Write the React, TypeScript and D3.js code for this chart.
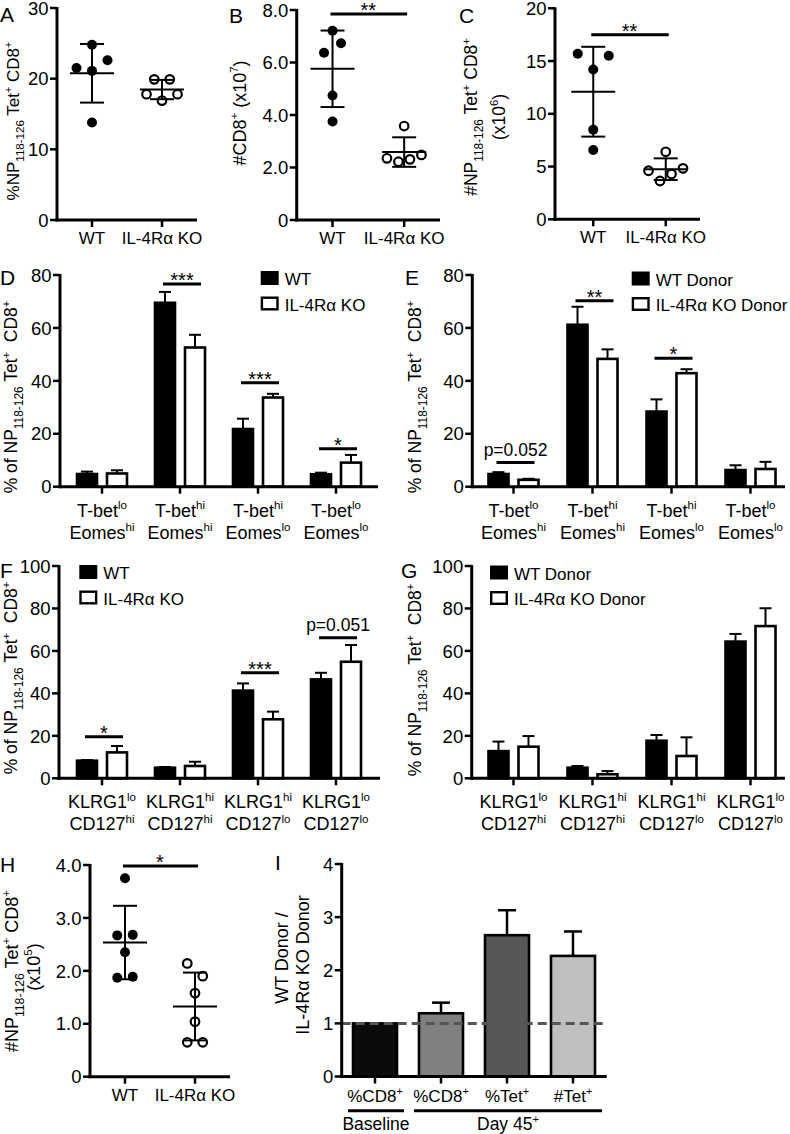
import React from "react";
import * as d3 from "d3";

const FONT = "'Liberation Sans', Arial, Helvetica, sans-serif";

// ---------------- data ----------------
const genotypes = ["WT", "IL-4Rα KO"];

// A: %NP118-126 Tet+ CD8+
const pctTetWT = [24.8, 21.5, 21.1, 22.6, 13.8];
const pctTetKO = [19.9, 19.9, 17.8, 16.9, 17.8];
// B: #CD8+ (x10^7)
const cd8CountWT = [6.37, 7.21, 6.73, 4.74, 3.75];
const cd8CountKO = [3.58, 2.35, 2.22, 2.31, 2.48];
// C: #NP Tet+ CD8+ (x10^6)
const tetCountWT = [15.7, 14.2, 15.5, 8.5, 6.57];
const tetCountKO = [6.4, 4.6, 3.63, 4.3, 4.83];
// H: #NP Tet+ CD8+ (x10^5)
const memTetWT = [3.75, 2.67, 2.68, 2.35, 1.87, 1.89];
const memTetKO = [2.14, 1.9, 1.58, 1.04, 0.65, 0.65];

const ticksA = [0, 10, 20, 30];
const ticksB = [0, 2, 4, 6, 8];
const ticksC = [0, 5, 10, 15, 20];
const ticksH = [0, 1, 2, 3, 4];
const ticksDE = [0, 20, 40, 60, 80];
const ticksFG = [0, 20, 40, 60, 80, 100];
const ticksI = [0, 1, 2, 3, 4];

const tbetCats = [
  ["T-bet", "lo", "Eomes", "hi"],
  ["T-bet", "hi", "Eomes", "hi"],
  ["T-bet", "hi", "Eomes", "lo"],
  ["T-bet", "lo", "Eomes", "lo"],
];
const klrgCats = [
  ["KLRG1", "lo", "CD127", "hi"],
  ["KLRG1", "hi", "CD127", "hi"],
  ["KLRG1", "hi", "CD127", "lo"],
  ["KLRG1", "lo", "CD127", "lo"],
];

// D
const dWT = [4.8, 69.5, 21.8, 4.7];
const dWTerr = [0.9, 4.1, 3.9, 0.6];
const dKO = [5.0, 52.6, 33.7, 9.1];
const dKOerr = [1.2, 4.8, 1.4, 2.9];
// E
const eWT = [4.8, 61.2, 28.4, 6.3];
const eWTerr = [0.7, 6.8, 4.6, 1.8];
const eKO = [2.6, 48.3, 42.9, 6.7];
const eKOerr = [0.4, 3.6, 1.5, 2.7];
// F
const fWT = [8.3, 5.0, 41.3, 46.6];
const fWTerr = [0.3, 0.3, 3.4, 3.1];
const fKO = [12.2, 5.8, 27.8, 54.9];
const fKOerr = [3.0, 2.0, 3.6, 7.9];
// G
const gWT = [12.8, 5.0, 17.7, 64.4];
const gWTerr = [4.5, 0.8, 2.7, 3.6];
const gKO = [14.9, 1.9, 10.5, 71.7];
const gKOerr = [5.0, 1.5, 8.8, 8.4];
// I
const iCats = [["%CD8", "+"], ["%CD8", "+"], ["%Tet", "+"], ["#Tet", "+"]];
const iVals = [1.0, 1.19, 2.66, 2.27];
const iErr = [0, 0.2, 0.47, 0.46];
const iGroups = [
  { label: "Baseline", sup: "", from: 0, to: 0 },
  { label: "Day 45", sup: "+", from: 1, to: 3 },
];

const legendMouse = ["WT", "IL-4Rα KO"];
const legendDonor = ["WT Donor", "IL-4Rα KO Donor"];

const sigB = { y: 7.85, t: "**" };
const sigC = { y: 17.5, t: "**" };
const sigH = { y: 3.98, t: "*" };
const sigD = [
  { g: 1, y: 76.6, t: "***" },
  { g: 2, y: 39.3, t: "***" },
  { g: 3, y: 14.3, t: "*" },
];
const sigE = [
  { g: 0, y: 9.1, t: "p=0.052" },
  { g: 1, y: 70.3, t: "**" },
  { g: 2, y: 48.5, t: "*" },
];
const sigF = [
  { g: 0, y: 19.6, t: "*" },
  { g: 2, y: 49.7, t: "***" },
  { g: 3, y: 66.2, t: "p=0.051" },
];

// ---------------- styles ----------------
const iColors = ["#0b0b0b", "#808080", "#575757", "#c0c0c0"];
const TICK_FS = 18.5;
const XLAB_FS = 17;
const CAT_FS = 18;

type Seg = { t: string; s?: "sub" | "sup" };

function spans(segs: Seg[], size: number) {
  let cur = 0;
  return segs.map((sg, i) => {
    const target = sg.s === "sub" ? size * 0.32 : sg.s === "sup" ? -size * 0.42 : 0;
    const dy = target - cur;
    cur = target;
    return (
      <tspan key={i} dy={dy} fontSize={sg.s === "sub" ? size * 0.68 : sg.s ? size * 0.64 : size}>
        {sg.t}
      </tspan>
    );
  });
}

function Rich(props: { segs: Seg[]; x: number; y: number; size?: number; anchor?: string; rotate?: boolean }) {
  const size = props.size ?? 17;
  return (
    <text
      x={props.x}
      y={props.y}
      fontSize={size}
      textAnchor={props.anchor ?? "middle"}
      transform={props.rotate ? `rotate(-90 ${props.x} ${props.y})` : undefined}
      style={{ whiteSpace: "pre" }}
    >
      {spans(props.segs, size)}
    </text>
  );
}

function swarm(vals: number[], y: (v: number) => number, thr = 14.2) {
  const idx = vals.map((_, i) => i).sort((a, b) => y(vals[a]) - y(vals[b]));
  const clusters: number[][] = [];
  let prev = -Infinity;
  for (const i of idx) {
    const py = y(vals[i]);
    if (clusters.length && py - prev < thr) clusters[clusters.length - 1].push(i);
    else clusters.push([i]);
    prev = py;
  }
  const off = new Array(vals.length).fill(0);
  for (const c of clusters) {
    c.sort((a, b) => a - b);
    const n = c.length;
    const ys = c.map((i) => y(vals[i]));
    const span = (d3.max(ys) as number) - (d3.min(ys) as number);
    const sp = n >= 4 ? 11.5 : span > 18 ? 8.5 : 15.5;
    c.forEach((i, k) => (off[i] = (k - (n - 1) / 2) * sp));
  }
  return off;
}

function YAxis(p: { x: number; y: d3.ScaleLinear<number, number>; ticks: number[]; fmt: (v: number) => string }) {
  const [lo, hi] = p.y.domain();
  return (
    <g>
      <line x1={p.x} x2={p.x} y1={p.y(hi) - 1} y2={p.y(lo) + 1.5} stroke="#000" strokeWidth={3} />
      {p.ticks.map((t) => (
        <g key={t}>
          <line x1={p.x - 7} x2={p.x} y1={p.y(t)} y2={p.y(t)} stroke="#000" strokeWidth={2.5} />
          <text x={p.x - 8.5} y={p.y(t)} dy="0.36em" textAnchor="end" fontSize={TICK_FS}>
            {p.fmt(t)}
          </text>
        </g>
      ))}
    </g>
  );
}

function XAxis(p: { x0: number; x1: number; y: number; ticks: number[] }) {
  return (
    <g>
      <line x1={p.x0 - 1.5} x2={p.x1} y1={p.y} y2={p.y} stroke="#000" strokeWidth={3} />
      {p.ticks.map((t, i) => (
        <line key={i} x1={t} x2={t} y1={p.y} y2={p.y + 7} stroke="#000" strokeWidth={2.5} />
      ))}
    </g>
  );
}

function DotPanel(p: {
  ax: number;
  xEnd: number;
  yTop: number;
  y0: number;
  max: number;
  ticks: number[];
  fmt: (v: number) => string;
  wt: number[];
  ko: number[];
  xr: [number, number];
  sig?: { y: number; t: string };
}) {
  const y = d3.scaleLinear().domain([0, p.max]).range([p.y0, p.yTop]);
  const x = d3.scalePoint<string>().domain(genotypes).range(p.xr).padding(0.5);
  const groups = [p.wt, p.ko];
  const cxs = genotypes.map((g) => x(g) as number);
  return (
    <g>
      {groups.map((vals, gi) => {
        const cx = cxs[gi];
        const off = swarm(vals, y);
        const m = d3.mean(vals) as number;
        const sd = d3.deviation(vals) as number;
        return (
          <g key={gi}>
            {vals.map((v, i) =>
              gi === 0 ? (
                <circle key={i} cx={cx + off[i]} cy={y(v)} r={5} fill="#000" />
              ) : (
                <circle key={i} cx={cx + off[i]} cy={y(v)} r={4.3} fill="none" stroke="#000" strokeWidth={2.2} />
              )
            )}
            <line x1={cx} x2={cx} y1={y(m - sd)} y2={y(m + sd)} stroke="#000" strokeWidth={2} />
            <line x1={cx - 12} x2={cx + 12} y1={y(m + sd)} y2={y(m + sd)} stroke="#000" strokeWidth={2} />
            <line x1={cx - 12} x2={cx + 12} y1={y(m - sd)} y2={y(m - sd)} stroke="#000" strokeWidth={2} />
            <line x1={cx - 22} x2={cx + 22} y1={y(m)} y2={y(m)} stroke="#000" strokeWidth={2} />
          </g>
        );
      })}
      <YAxis x={p.ax} y={y} ticks={p.ticks} fmt={p.fmt} />
      <XAxis x0={p.ax} x1={p.xEnd} y={p.y0} ticks={cxs} />
      {genotypes.map((g, i) => (
        <text key={g} x={cxs[i]} y={p.y0 + 24} textAnchor="middle" fontSize={XLAB_FS}>
          {g}
        </text>
      ))}
      {p.sig && (
        <g>
          <line x1={cxs[0] - 2} x2={cxs[1] + 3} y1={y(p.sig.y)} y2={y(p.sig.y)} stroke="#000" strokeWidth={3} />
          <text x={(cxs[0] + cxs[1]) / 2} y={y(p.sig.y) + 3} textAnchor="middle" fontSize={20}>
            {p.sig.t}
          </text>
        </g>
      )}
    </g>
  );
}

function Legend(p: { x: number; y: number; labels: string[] }) {
  return (
    <g>
      <rect x={p.x} y={p.y} width={18} height={14} fill="#000" />
      <rect x={p.x + 1.2} y={p.y + 26.7} width={15.6} height={11.6} fill="#fff" stroke="#000" strokeWidth={2.4} />
      <text x={p.x + 24} y={p.y + 14} fontSize={17}>
        {p.labels[0]}
      </text>
      <text x={p.x + 24} y={p.y + 39.5} fontSize={17}>
        {p.labels[1]}
      </text>
    </g>
  );
}

function BarPanel(p: {
  ax: number;
  xEnd: number;
  yTop: number;
  y0: number;
  max: number;
  ticks: number[];
  cats: string[][];
  wt: number[];
  wtErr: number[];
  ko: number[];
  koErr: number[];
  xr: [number, number];
  sig?: { g: number; y: number; t: string }[];
}) {
  const y = d3.scaleLinear().domain([0, p.max]).range([p.y0, p.yTop]);
  const x = d3.scalePoint<number>().domain(d3.range(p.cats.length)).range(p.xr).padding(0.5);
  const series = [
    { vals: p.wt, err: p.wtErr, fill: "#000", dx: -15 },
    { vals: p.ko, err: p.koErr, fill: "#fff", dx: 15 },
  ];
  const cxs = p.cats.map((_, i) => x(i) as number);
  return (
    <g>
      {series.map((s, si) => (
        <g key={si}>
          {s.vals.map((v, i) => {
            const c = cxs[i] + s.dx;
            const top = y(v);
            const et = y(v + s.err[i]);
            return (
              <g key={i}>
                <line x1={c} x2={c} y1={top} y2={et} stroke="#000" strokeWidth={2} />
                <line x1={c - 6} x2={c + 6} y1={et} y2={et} stroke="#000" strokeWidth={2} />
                <rect x={c - 10} y={top} width={20} height={p.y0 - top} fill={s.fill} stroke="#000" strokeWidth={2.6} />
              </g>
            );
          })}
        </g>
      ))}
      <YAxis x={p.ax} y={y} ticks={p.ticks} fmt={(v) => String(v)} />
      <XAxis x0={p.ax} x1={p.xEnd} y={p.y0} ticks={cxs} />
      {p.cats.map((c, i) => (
        <g key={i}>
          <Rich x={cxs[i]} y={p.y0 + 30} size={CAT_FS} segs={[{ t: c[0] }, { t: c[1], s: "sup" }]} />
          <Rich x={cxs[i]} y={p.y0 + 52} size={CAT_FS} segs={[{ t: c[2] }, { t: c[3], s: "sup" }]} />
        </g>
      ))}
      {(p.sig ?? []).map((s, i) => {
        const c = cxs[s.g];
        const ly = y(s.y);
        const isP = s.t.startsWith("p");
        return (
          <g key={i}>
            <line x1={c - 17} x2={c + 21} y1={ly} y2={ly} stroke="#000" strokeWidth={3} />
            <text x={c + 2} y={isP ? ly - 7 : ly + 3} textAnchor="middle" fontSize={isP ? 17.5 : 20}>
              {s.t}
            </text>
          </g>
        );
      })}
    </g>
  );
}

function IPanel() {
  const ax = 341.7;
  const xEnd = 606.7;
  const y = d3.scaleLinear().domain([0, 4]).range([1076.5, 864]);
  const x = d3.scalePoint<number>().domain(d3.range(iVals.length)).range([342, 606]).padding(0.5);
  const cxs = iVals.map((_, i) => x(i) as number);
  return (
    <g>
      {iVals.map((v, i) => {
        const c = cxs[i];
        const top = y(v);
        const et = y(v + iErr[i]);
        return (
          <g key={i}>
            {iErr[i] > 0 && (
              <g>
                <line x1={c} x2={c} y1={top} y2={et} stroke="#000" strokeWidth={2.5} />
                <line x1={c - 9} x2={c + 9} y1={et} y2={et} stroke="#000" strokeWidth={2.5} />
              </g>
            )}
            <rect x={c - 22} y={top} width={44} height={y(0) - top} fill={iColors[i]} stroke="#000" strokeWidth={2.6} />
          </g>
        );
      })}
      <line x1={ax} x2={xEnd} y1={y(1)} y2={y(1)} stroke="#555" strokeWidth={3} strokeDasharray="9,5" />
      <YAxis x={ax} y={y} ticks={ticksI} fmt={(v) => String(v)} />
      <XAxis x0={ax} x1={xEnd} y={y(0)} ticks={cxs} />
      {iCats.map((c, i) => (
        <Rich key={i} x={cxs[i]} y={1102} size={17} segs={[{ t: c[0] }, { t: c[1], s: "sup" }]} />
      ))}
      {iGroups.map((g, i) => {
        const x1 = cxs[g.from] - 27;
        const x2 = cxs[g.to] + 29;
        return (
          <g key={i}>
            <line x1={x1} x2={x2} y1={1110.7} y2={1110.7} stroke="#000" strokeWidth={3} />
            <Rich x={(x1 + x2) / 2} y={1130} size={17.5} segs={[{ t: g.label }, { t: g.sup, s: "sup" }]} />
          </g>
        );
      })}
    </g>
  );
}

const npLabel: Seg[] = [
  { t: "#NP" },
  { t: "118-126", s: "sub" },
  { t: " Tet" },
  { t: "+", s: "sup" },
  { t: " CD8" },
  { t: "+", s: "sup" },
];
const pctNpLabel: Seg[] = [
  { t: "%NP" },
  { t: "118-126", s: "sub" },
  { t: " Tet" },
  { t: "+", s: "sup" },
  { t: " CD8" },
  { t: "+", s: "sup" },
];
const pctOfLabel: Seg[] = [
  { t: "% of NP" },
  { t: "118-126", s: "sub" },
  { t: " Tet" },
  { t: "+", s: "sup" },
  { t: "  CD8" },
  { t: "+", s: "sup" },
];

function Letter(p: { x: number; y: number; t: string }) {
  return (
    <text x={p.x} y={p.y} fontSize={21}>
      {p.t}
    </text>
  );
}

export default function App() {
  const fmt1 = (v: number) => (v === 0 ? "0" : v.toFixed(1));
  return (
    <svg
      width={790}
      height={1134}
      style={{ position: "absolute", left: 0, top: 0, background: "#fff" }}
      fontFamily={FONT}
    >
      <rect width={790} height={1134} fill="#fff" />

      {/* A */}
      <Letter x={0} y={22} t="A" />
      <Rich x={19} y={121} rotate size={17} segs={pctNpLabel} />
      <DotPanel ax={57} xEnd={197} yTop={8} y0={220} max={30} ticks={ticksA} fmt={(v) => String(v)} wt={pctTetWT} ko={pctTetKO} xr={[57, 197]} />

      {/* B */}
      <Letter x={229} y={23} t="B" />
      <Rich x={246} y={113} rotate size={18} segs={[{ t: "#CD8" }, { t: "+", s: "sup" }, { t: " (x10" }, { t: "7", s: "sup" }, { t: ")" }]} />
      <DotPanel ax={296.7} xEnd={440} yTop={10} y0={220} max={8} ticks={ticksB} fmt={fmt1} wt={cd8CountWT} ko={cd8CountKO} xr={[296.7, 440]} sig={sigB} />

      {/* C */}
      <Letter x={459} y={23} t="C" />
      <Rich x={477} y={117} rotate size={17.5} segs={npLabel} />
      <Rich x={505} y={117} rotate size={17.5} segs={[{ t: "(x10" }, { t: "6", s: "sup" }, { t: ")" }]} />
      <DotPanel ax={555} xEnd={700} yTop={8.3} y0={219.3} max={20} ticks={ticksC} fmt={(v) => String(v)} wt={tetCountWT} ko={tetCountKO} xr={[557, 702]} sig={sigC} />

      {/* D */}
      <Letter x={0} y={285} t="D" />
      <Rich x={17} y={397} rotate size={17.5} segs={pctOfLabel} />
      <BarPanel ax={60} xEnd={378} yTop={275} y0={486.7} max={80} ticks={ticksDE} cats={tbetCats} wt={dWT} wtErr={dWTerr} ko={dKO} koErr={dKOerr} xr={[63, 375]} sig={sigD} />
      <Legend x={260.7} y={271} labels={legendMouse} />

      {/* E */}
      <Letter x={405} y={285} t="E" />
      <Rich x={421} y={397} rotate size={17.5} segs={pctOfLabel} />
      <BarPanel ax={472.3} xEnd={785} yTop={275} y0={486.7} max={80} ticks={ticksDE} cats={tbetCats} wt={eWT} wtErr={eWTerr} ko={eKO} koErr={eKOerr} xr={[474, 790]} sig={sigE} />
      <Legend x={631.7} y={271.5} labels={legendDonor} />

      {/* F */}
      <Letter x={0} y={578} t="F" />
      <Rich x={17} y={678} rotate size={17.5} segs={pctOfLabel} />
      <BarPanel ax={59} xEnd={380} yTop={566} y0={778.3} max={100} ticks={ticksFG} cats={klrgCats} wt={fWT} wtErr={fWTerr} ko={fKO} koErr={fKOerr} xr={[63, 375]} sig={sigF} />
      <Legend x={79.3} y={565} labels={legendMouse} />

      {/* G */}
      <Letter x={401} y={578} t="G" />
      <Rich x={421} y={680} rotate size={17.5} segs={pctOfLabel} />
      <BarPanel ax={471.7} xEnd={785} yTop={566} y0={778.3} max={100} ticks={ticksFG} cats={klrgCats} wt={gWT} wtErr={gWTerr} ko={gKO} koErr={gKOerr} xr={[474, 790]} />
      <Legend x={490} y={565.5} labels={legendDonor} />

      {/* H */}
      <Letter x={0} y={872} t="H" />
      <Rich x={18} y={971} rotate size={18} segs={npLabel} />
      <Rich x={40} y={967} rotate size={18} segs={[{ t: "(x10" }, { t: "5", s: "sup" }, { t: ")" }]} />
      <DotPanel ax={90} xEnd={230} yTop={865} y0={1076.7} max={4} ticks={ticksH} fmt={fmt1} wt={memTetWT} ko={memTetKO} xr={[90, 230]} sig={sigH} />

      {/* I */}
      <Letter x={275} y={870} t="I" />
      <Rich x={288} y={958} rotate size={18} segs={[{ t: "WT Donor /" }]} />
      <Rich x={309} y={965} rotate size={18} segs={[{ t: "IL-4Rα KO Donor" }]} />
      <IPanel />
    </svg>
  );
}
